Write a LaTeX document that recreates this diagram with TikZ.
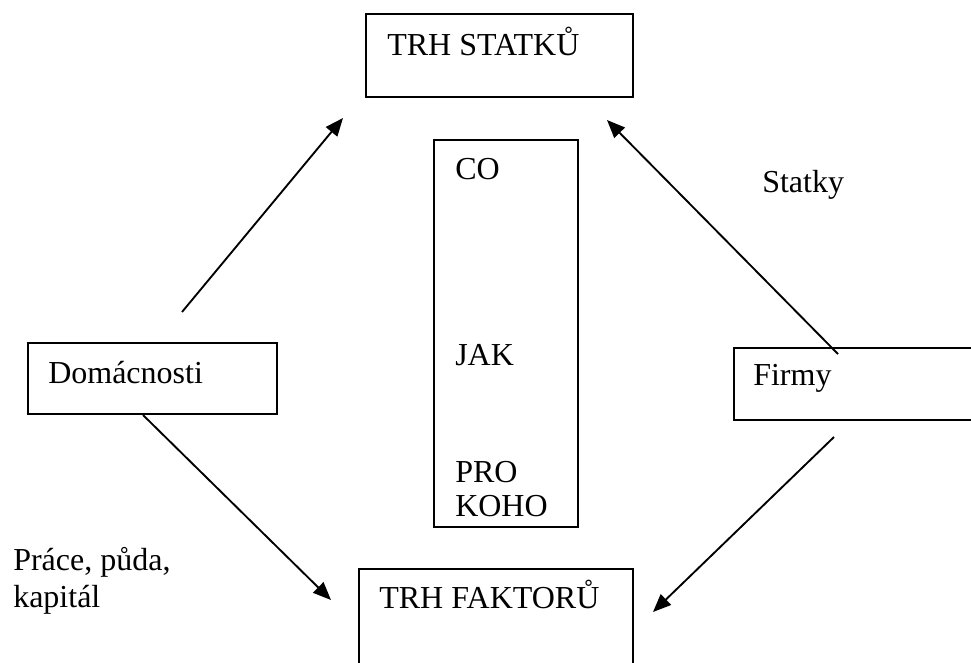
\documentclass[tikz,border=0pt]{standalone}
\usepackage{fontspec}
\setmainfont{Liberation Serif}
\usetikzlibrary{arrows.meta}
\tikzset{
  box/.style={draw, line width=1.5pt, inner sep=0pt, anchor=north west},
  txt/.style={inner sep=0pt, anchor=base west, font=\fontsize{24}{27.75}\selectfont},
  arr/.style={line width=1.4pt, -{Triangle[length=13.5pt,width=11pt]}},
}
\begin{document}
\begin{tikzpicture}[x=0.75pt,y=-0.75pt]
\useasboundingbox (0,0) rectangle (971,662);
% boxes
\node[box, minimum width=200.25pt, minimum height=62.25pt] (statkybox) at (365,13) {};
\node[box, minimum width=205.5pt, minimum height=82.5pt] (faktorybox) at (358,568) {};
\node[box, minimum width=108pt, minimum height=290pt] (midbox) at (433,139) {};
\node[box, minimum width=186.75pt, minimum height=53.25pt] (dombox) at (27,342) {};
\node[box, minimum width=183.75pt, minimum height=54pt] (firmybox) at (733,347) {};
% texts
\node[txt] (t1) at (387,55) {TRH STATKŮ};
\node[txt] (t2) at (379,608) {TRH FAKTORŮ};
\node[txt] (co) at (455,179) {CO};
\node[txt] (jak) at (455,365) {JAK};
\node[txt] (pro) at (455,482) {PRO};
\node[txt] (koho) at (455,516) {KOHO};
\node[txt] (dtxt) at (48,383) {Domácnosti};
\node[txt] (ftxt) at (753,385) {Firmy};
\node[txt] (statkylbl) at (762,192) {Statky};
\node[txt] (prace) at (13,570) {Práce, půda,};
\node[txt] (kapital) at (13,607) {kapitál};
% arrow ends
\coordinate (a1s) at (182,312);
\coordinate (a1e) at (343,118);
\coordinate (a2s) at (838,354);
\coordinate (a2e) at (607,120);
\coordinate (a3s) at (143,415);
\coordinate (a3e) at (331,600);
\coordinate (a4s) at (834,437);
\coordinate (a4e) at (653,612);
\draw[arr] (a1s) -- (a1e);
\draw[arr] (a2s) -- (a2e);
\draw[arr] (a3s) -- (a3e);
\draw[arr] (a4s) -- (a4e);
\end{tikzpicture}
\end{document}
